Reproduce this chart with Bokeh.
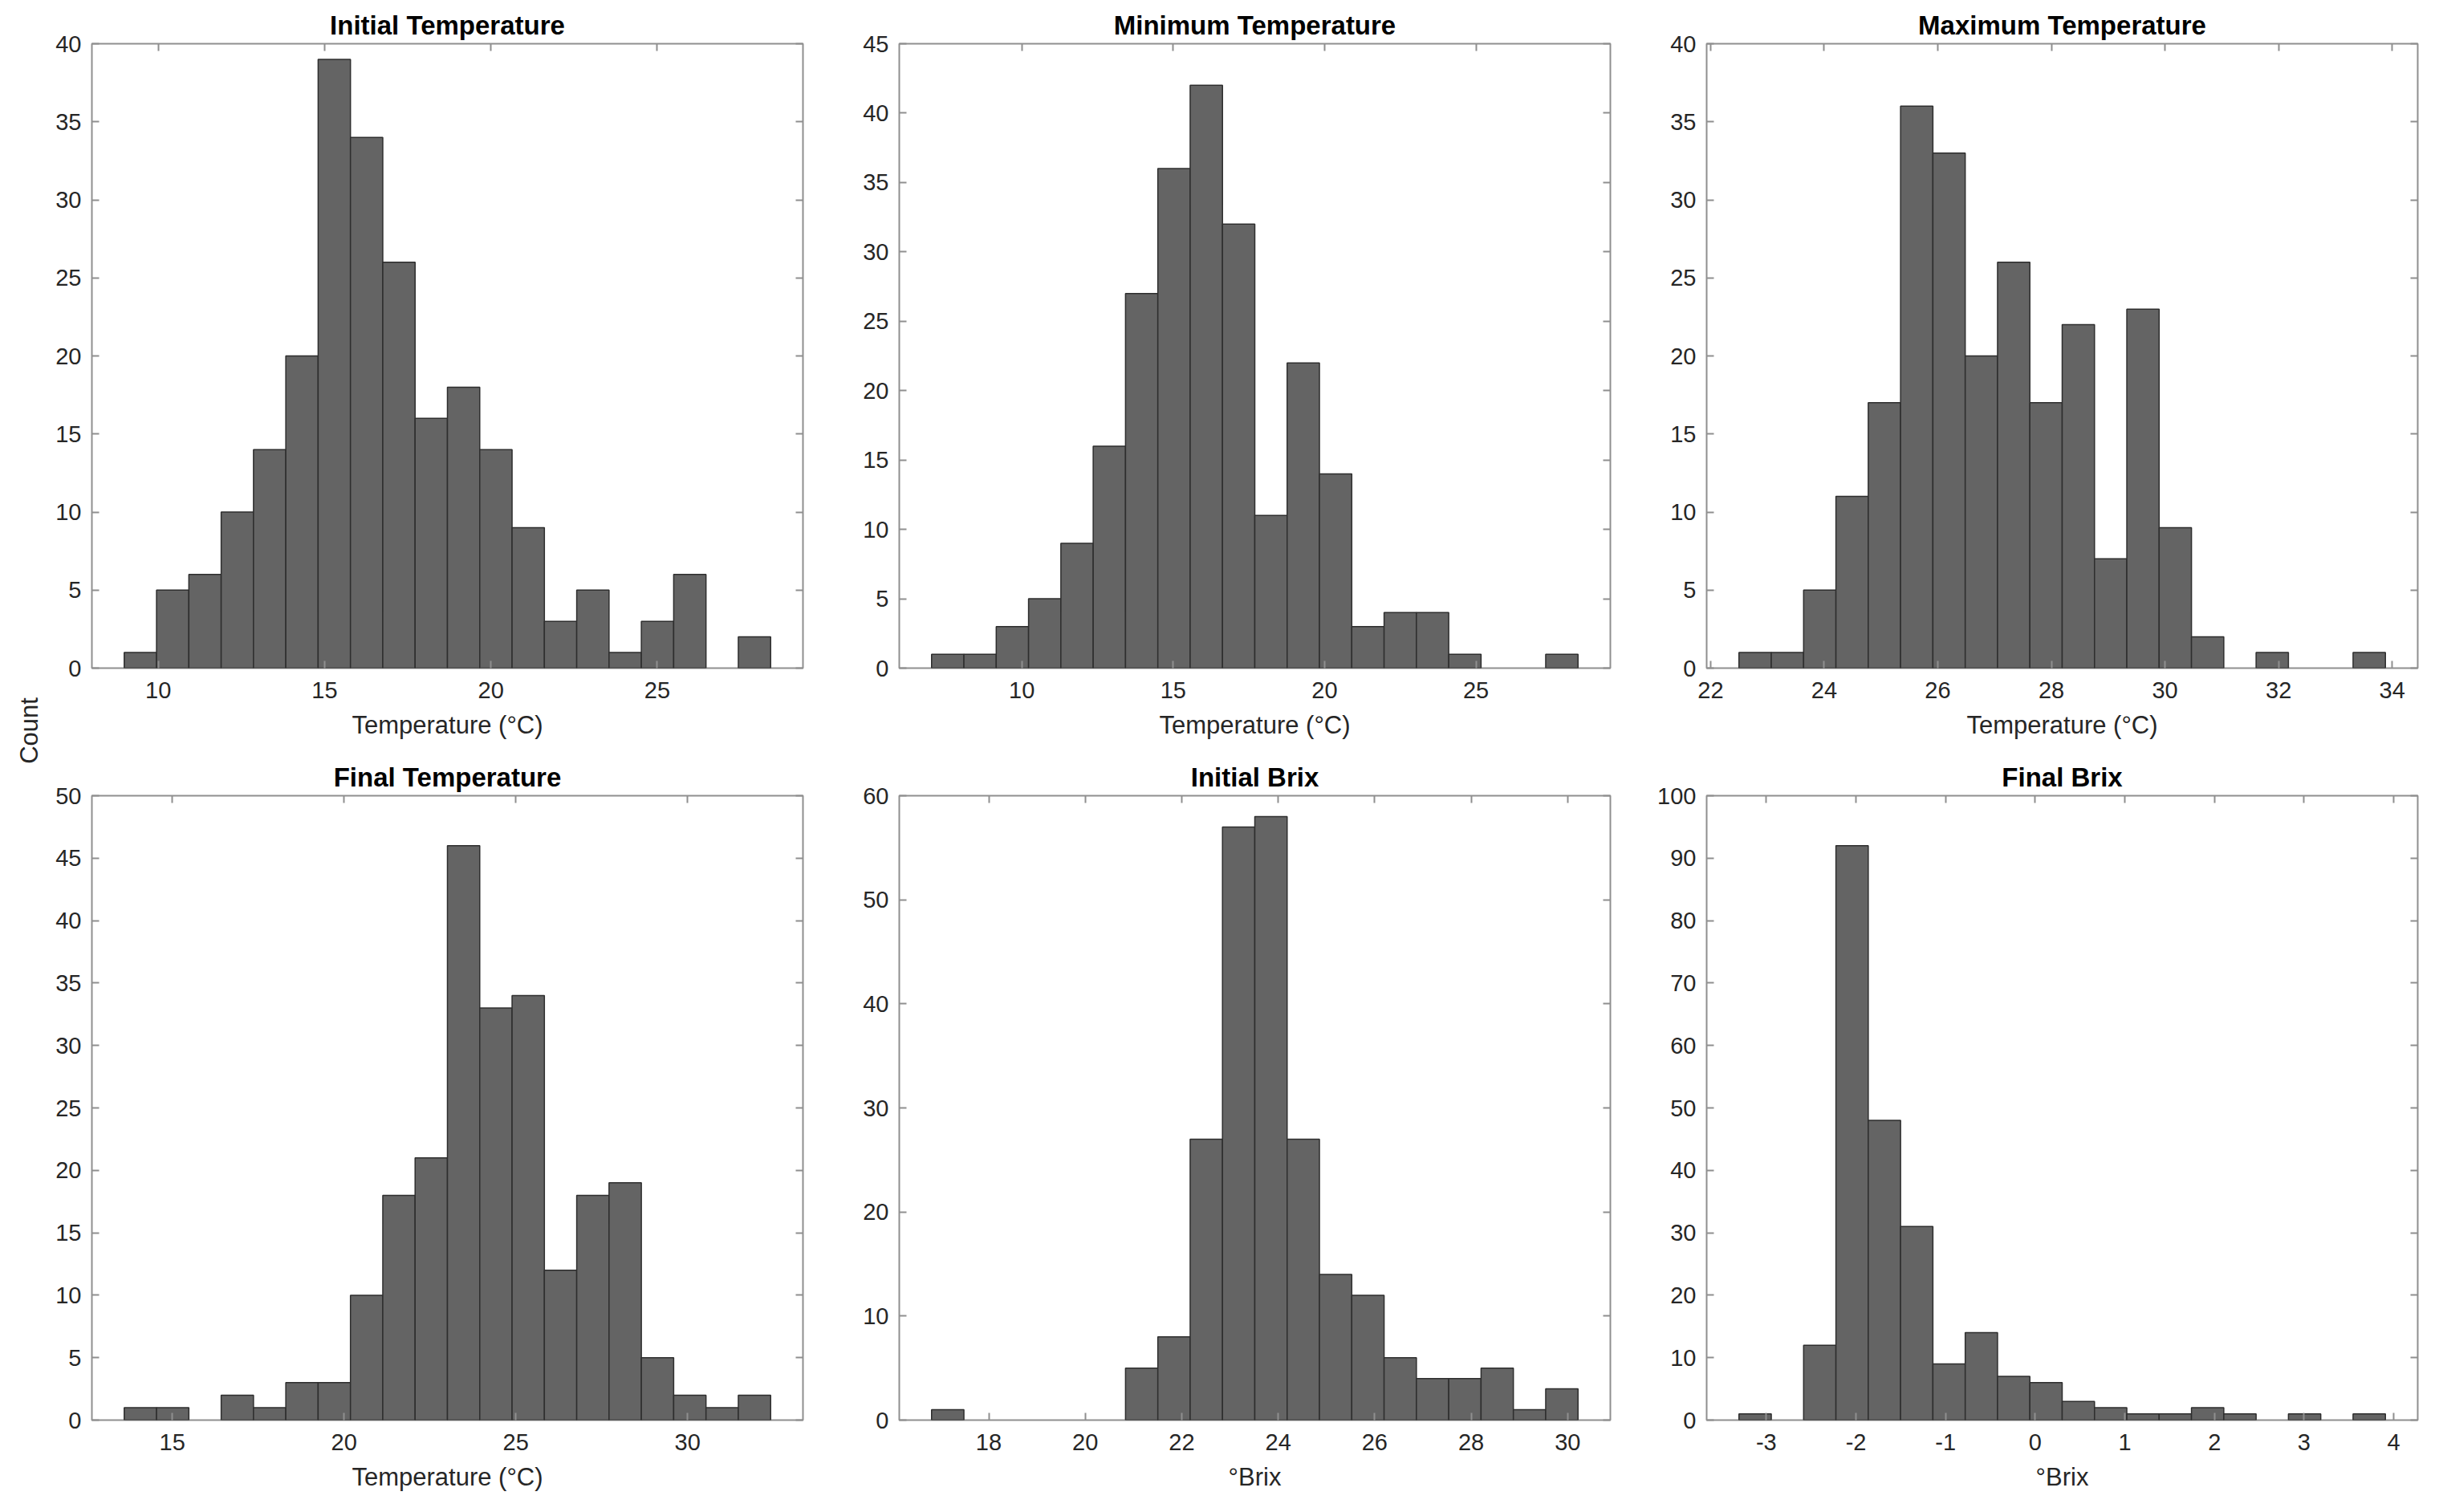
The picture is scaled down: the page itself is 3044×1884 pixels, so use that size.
import numpy as np
from bokeh.plotting import figure
from bokeh.models import Range1d, FixedTicker, LinearAxis
from bokeh.layouts import row, column
from bokeh.embed import file_html
from bokeh.resources import INLINE
from bokeh.core.properties import value

# ---------------- data ----------------
titles = ["Initial Temperature", "Minimum Temperature", "Maximum Temperature",
          "Final Temperature", "Initial Brix", "Final Brix"]
xlabels = ["Temperature (°C)", "Temperature (°C)", "Temperature (°C)",
           "Temperature (°C)", "°Brix", "°Brix"]
y_title = "Count"

# first bin edge and bin width of each histogram (20 bins each)
bin_start = [8.976, 7.02, 22.50, 13.60, 16.815, -3.305]
bin_width = [0.9717, 1.0675, 0.569, 0.941, 0.670, 0.3606]

counts_initial_temp = [1, 5, 6, 10, 14, 20, 39, 34, 26, 16, 18, 14, 9, 3, 5, 1, 3, 6, 0, 2]
counts_min_temp = [1, 1, 3, 5, 9, 16, 27, 36, 42, 32, 11, 22, 14, 3, 4, 4, 1, 0, 0, 1]
counts_max_temp = [1, 1, 5, 11, 17, 36, 33, 20, 26, 17, 22, 7, 23, 9, 2, 0, 1, 0, 0, 1]
counts_final_temp = [1, 1, 0, 2, 1, 3, 3, 10, 18, 21, 46, 33, 34, 12, 18, 19, 5, 2, 1, 2]
counts_initial_brix = [1, 0, 0, 0, 0, 0, 5, 8, 27, 57, 58, 27, 14, 12, 6, 4, 4, 5, 1, 3]
counts_final_brix = [1, 0, 12, 92, 48, 31, 9, 14, 7, 6, 3, 2, 1, 1, 2, 1, 0, 1, 0, 1]
all_counts = [counts_initial_temp, counts_min_temp, counts_max_temp,
              counts_final_temp, counts_initial_brix, counts_final_brix]

x_ticks = [[10, 15, 20, 25],
           [10, 15, 20, 25],
           [22, 24, 26, 28, 30, 32, 34],
           [15, 20, 25, 30],
           [18, 20, 22, 24, 26, 28, 30],
           [-3, -2, -1, 0, 1, 2, 3, 4]]
y_ticks = [[0, 5, 10, 15, 20, 25, 30, 35, 40],
           [0, 5, 10, 15, 20, 25, 30, 35, 40, 45],
           [0, 5, 10, 15, 20, 25, 30, 35, 40],
           [0, 5, 10, 15, 20, 25, 30, 35, 40, 45, 50],
           [0, 10, 20, 30, 40, 50, 60],
           [0, 10, 20, 30, 40, 50, 60, 70, 80, 90, 100]]

# ---------------- style ----------------
FONT = "Liberation Sans"
FRAME_W, FRAME_H = 886, 778
AX_COLOR = "#8f8f8f"
TXT_COLOR = "#262626"
BAR_FILL = "#646464"
BAR_LINE = "#2e2e2e"
TOP1, BOT1, TOP2, BOT2 = 54, 111, 46, 100


def make_panel(i, first_col, top_row):
    counts = np.array(all_counts[i])
    edges = bin_start[i] + bin_width[i] * np.arange(len(counts) + 1)
    bw = bin_width[i]
    p = figure(frame_width=FRAME_W, frame_height=FRAME_H,
               x_range=Range1d(edges[0] - bw, edges[-1] + bw),
               y_range=Range1d(y_ticks[i][0], y_ticks[i][-1]),
               toolbar_location=None, output_backend="svg",
               min_border_left=50 if first_col else 100,
               min_border_right=20,
               min_border_top=TOP1 if top_row else TOP2,
               min_border_bottom=BOT1 if top_row else BOT2)
    p.background_fill_color = "white"
    p.border_fill_color = "white"
    p.grid.visible = False
    p.outline_line_color = AX_COLOR
    p.outline_line_width = 2

    p.title.text = titles[i]
    p.title.align = "center"
    p.title.text_font = FONT
    p.title.text_font_size = "33px"
    p.title.text_font_style = "bold"
    p.title.text_color = "#000000"
    p.title.standoff = 9

    m = np.array([c > 0 for c in counts])
    p.quad(left=edges[:-1][m], right=edges[1:][m], bottom=0, top=counts[m],
           fill_color=BAR_FILL, line_color=BAR_LINE, line_width=1.5)

    def style_axis(ax, ticks, show_labels):
        ax.ticker = FixedTicker(ticks=ticks)
        ax.minor_tick_line_color = None
        ax.axis_line_color = None
        ax.major_tick_line_color = AX_COLOR
        ax.major_tick_line_width = 2
        ax.major_tick_in = 9
        ax.major_tick_out = 0
        ax.major_label_text_font = FONT
        if show_labels:
            ax.major_label_overrides = {t: str(t) for t in ticks}
            ax.major_label_text_color = TXT_COLOR
            ax.major_label_text_font_size = "29px"
        else:
            # tick marks only (box ticks on top / right), no labels drawn
            ax.major_label_text_color = None
            ax.major_label_text_alpha = 0
            ax.major_label_text_font_size = "1px"
            ax.major_label_standoff = 0

    xa = p.xaxis[0]
    style_axis(xa, x_ticks[i], True)
    xa.major_label_standoff = 17
    xa.axis_label = xlabels[i]
    xa.axis_label_text_font = FONT
    xa.axis_label_text_font_size = "31px"
    xa.axis_label_text_font_style = "normal"
    xa.axis_label_text_color = TXT_COLOR
    xa.axis_label_standoff = 13

    ya = p.yaxis[0]
    style_axis(ya, y_ticks[i], True)
    ya.major_label_standoff = 13

    top_ax = LinearAxis()
    style_axis(top_ax, x_ticks[i], False)
    p.add_layout(top_ax, "above")
    right_ax = LinearAxis()
    style_axis(right_ax, y_ticks[i], False)
    p.add_layout(right_ax, "right")
    return p


panels = [make_panel(i, i % 3 == 0, i < 3) for i in range(6)]

total_h = (TOP1 + FRAME_H + BOT1) + (TOP2 + FRAME_H + BOT2)
label_fig = figure(frame_width=64, frame_height=total_h,
                   x_range=Range1d(0, 1), y_range=Range1d(0, total_h),
                   toolbar_location=None, output_backend="svg",
                   min_border=0)
label_fig.axis.visible = False
label_fig.grid.visible = False
label_fig.outline_line_color = None
label_fig.background_fill_color = "white"
label_fig.border_fill_color = "white"
label_fig.text(x=[36 / 64], y=[total_h - 910], text=[y_title], angle=np.pi / 2,
               text_align="center", text_baseline="middle",
               text_font=value(FONT), text_font_size="31px", text_color=TXT_COLOR)

layout = row(label_fig,
             column(row(panels[0], panels[1], panels[2]),
                    row(panels[3], panels[4], panels[5])))

open("out.html", "w").write(file_html(layout, INLINE))
